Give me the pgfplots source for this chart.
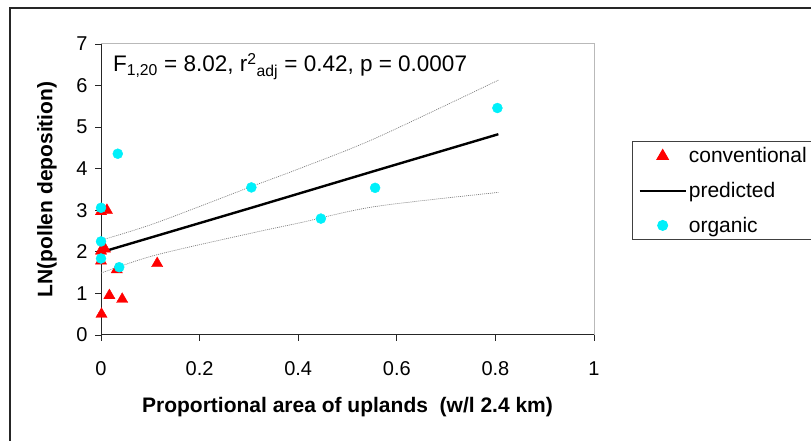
\documentclass[border=0pt]{standalone}
\usepackage{fontspec}
\setmainfont{Liberation Sans}
\usepackage{pgfplots}
\pgfplotsset{compat=1.18}
\definecolor{cyanpt}{RGB}{0,240,250}
\definecolor{redpt}{RGB}{255,0,0}
\begin{document}
\begin{tikzpicture}[x=1bp,y=1bp]
\path[use as bounding box] (0,0) rectangle (811,441);
\draw[line width=1.3bp, black!85] (10,-5) -- (10,433) -- (820,433);
\begin{axis}[
  at={(101bp,106bp)}, anchor=south west,
  scale only axis, width=493bp, height=291bp,
  xmin=0, xmax=1, ymin=0, ymax=7,
  axis lines*=left,
  axis line style={line width=1bp, black!85},
  tick align=outside, major tick length=6bp,
  tick style={black!85, line width=0.8bp},
  xtick={0,0.2,0.4,0.6,0.8,1},
  xticklabels={0,0.2,0.4,0.6,0.8,1},
  ytick={0,1,2,3,4,5,6,7},
  yticklabels={0,1,2,3,4,5,6,7},
  ticklabel style={font=\fontsize{20bp}{24bp}\selectfont},
  xticklabel style={yshift=-17bp},
  yticklabel style={xshift=-4bp},
  xlabel={Proportional area of uplands\ \ (w/l 2.4 km)},
  ylabel={LN(pollen deposition)},
  label style={font=\bfseries\fontsize{21bp}{25bp}\selectfont},
  xlabel style={yshift=-15bp},
  ylabel style={at={(axis description cs:-0.1095,0.5)}, anchor=center, rotate=0},
  clip=false,
  legend style={at={(1.077,0.666)}, anchor=north west, draw=black!75, line width=1bp,
    font=\fontsize{21bp}{25bp}\selectfont, inner xsep=6bp, inner ysep=4bp,
    row sep=14bp, cells={anchor=west}},
  legend cell align=left,
  legend image code/.code={\draw[mark repeat=2,mark phase=2] plot coordinates {(0bp,0bp) (23bp,0bp) (46bp,0bp)};},
]
% confidence bands
\addplot[forget plot, gray, line width=0.7bp, dash pattern=on 1bp off 1bp, smooth]
  coordinates {(0,2.28) (0.11,2.69) (0.305,3.57) (0.404,4.01) (0.556,4.73) (0.806,6.13)};
\addplot[forget plot, gray, line width=0.7bp, dash pattern=on 1bp off 1bp, smooth]
  coordinates {(0,1.49) (0.11,1.92) (0.305,2.45) (0.404,2.70) (0.556,3.09) (0.806,3.43)};
% conventional
\addplot[only marks, mark=triangle*, mark size=6.5bp, color=redpt]
  coordinates {(0.000,2.97) (0.012,3.00) (0.008,2.07) (0.000,2.02) (0.000,1.78)
               (0.032,1.57) (0.114,1.72) (0.017,0.95) (0.043,0.86) (0.001,0.50)};
\addlegendentry{conventional}
% predicted
\addplot[black, line width=2.4bp, mark=none]
  coordinates {(0,1.99) (0.305,3.06) (0.556,3.95) (0.806,4.83)};
\addlegendentry{predicted}
% organic
\addplot[only marks, mark=*, mark size=5bp, color=cyanpt]
  coordinates {(0.000,3.06) (0.034,4.36) (0.000,2.25) (0.000,1.84) (0.037,1.63)
               (0.305,3.55) (0.446,2.80) (0.556,3.54) (0.804,5.46)};
\addlegendentry{organic}
\draw[gray!55, line width=1bp] (rel axis cs:0,1) -- (rel axis cs:1,1) -- (rel axis cs:1,0);
\node[anchor=base west, inner sep=0pt, font=\fontsize{22.5bp}{26bp}\selectfont]
  at (rel axis cs:0.024,0.904) {F\textsubscript{1,20} = 8.02, r\textsuperscript{2}\textsubscript{adj} = 0.42, p = 0.0007};
\end{axis}
\end{tikzpicture}
\end{document}
